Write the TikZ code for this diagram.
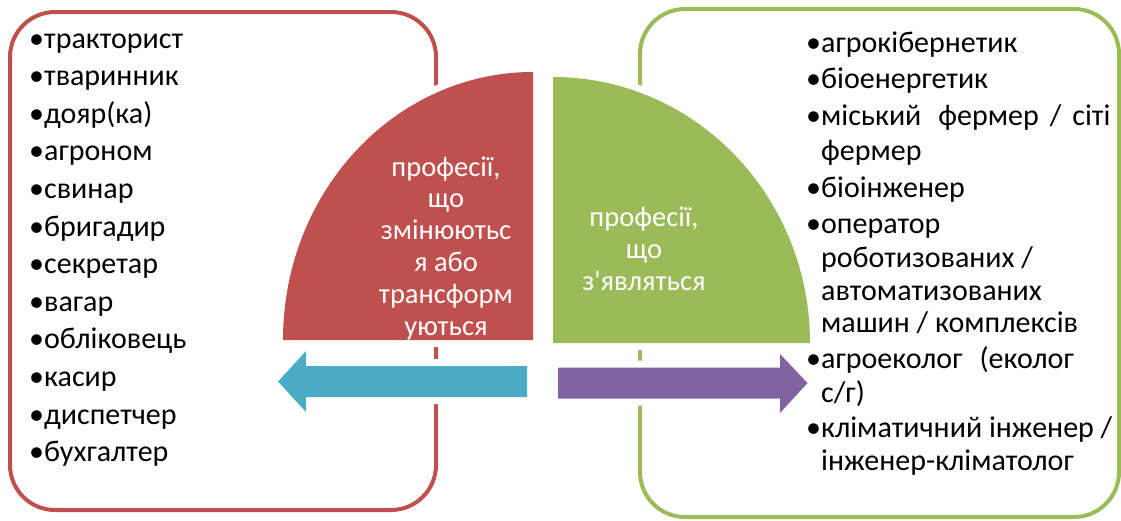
\documentclass[tikz,border=0pt]{standalone}
\usepackage{fontspec}
\setmainfont{Carlito}
\usetikzlibrary{positioning}

\definecolor{oldred}{HTML}{C0504D}
\definecolor{newgreen}{HTML}{9BBB59}
\definecolor{leftcyan}{HTML}{4BACC6}
\definecolor{rightviolet}{HTML}{8064A2}

\begin{document}
\begin{tikzpicture}[
    % one unit is one pixel of the page, y grows downwards
    x=1pt, y=-1pt,
    % frames round the two lists
    frame/.style={rounded corners=45pt, line width=4pt},
    oldframe/.style={frame, draw=oldred},
    newframe/.style={frame, draw=newgreen},
    % white gap round discs and arrows
    halo/.style={preaction={draw=white, line width=14pt, line join=round}},
    % texts
    item/.style={anchor=base west, inner sep=0pt, font=\fontsize{30}{34}\selectfont},
    title/.style={anchor=base, align=center, text=white, inner sep=0pt,
                  font=\fontsize{28.5}{31.8}\selectfont},
  ]

  \useasboundingbox (0,0) rectangle (1121,520);

  % frames
  \draw[oldframe] (10,12) rectangle (436,510);
  \draw[newframe] (640,9) rectangle (1119,517);

  % quarter discs
  \path[halo, fill=oldred]   (533,340) -- (283,340)
        arc[start angle=180, end angle=270, x radius=250, y radius=268] -- cycle;
  \path[halo, fill=newgreen] (553,343) -- (553,77)
        arc[start angle=270, end angle=360, x radius=257, y radius=266] -- cycle;

  % arrows
  \path[halo, fill=leftcyan]    (527,366) -- (306,366) -- (306,351) -- (278,381.5)
        -- (306,412) -- (306,397) -- (527,397) -- cycle;
  \path[halo, fill=rightviolet] (558,367.5) -- (780,367.5) -- (780,354) -- (807.5,383)
        -- (780,413) -- (780,398.5) -- (558,398.5) -- cycle;

  % disc titles (base is the last line)
  \node[title] (changing) at (446,335) {професії,\\що\\змінюютьс\\я або\\трансформ\\уються};
  \node[title] (emerging) at (644,290) {професії,\\що\\з\textquotesingle являться};

  % old professions
  \foreach \t [count=\i from 0] in {тракторист, тваринник, дояр(ка), агроном, свинар,
      бригадир, секретар, вагар, обліковець, касир, диспетчер, бухгалтер}
    \node[item] (old-\i) at (29, {48+37.6*\i}) {•\t};

  % new professions
  \foreach \y/\t [count=\i] in {52/{•агрокібернетик}, 88/{•біоенергетик},
      125/{•міський\hspace{17pt}фермер\hspace{11pt}/\hspace{11pt}сіті}, 160/{\phantom{•}фермер},
      197/{•біоінженер}, 233/{•оператор}, 267/{\phantom{•}роботизованих /},
      300/{\phantom{•}автоматизованих}, 332/{\phantom{•}машин / комплексів},
      368/{•агроеколог\hspace{17pt}(еколог}, 402/{\phantom{•}с/г)},
      437/{•кліматичний інженер /}, 470/{\phantom{•}інженер-кліматолог}}
    \node[item] (new-\i) at (806,\y) {\t};

\end{tikzpicture}
\end{document}
